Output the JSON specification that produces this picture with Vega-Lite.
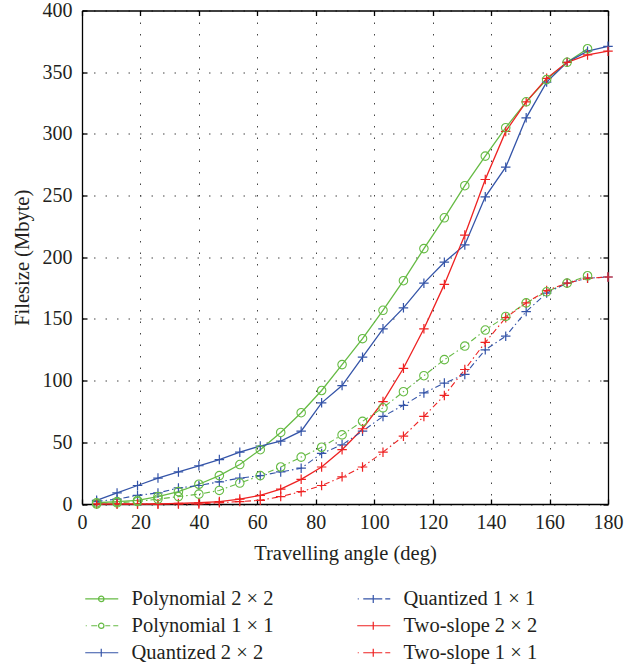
{
  "$schema": "https://vega.github.io/schema/vega-lite/v6.json",
  "width": 526,
  "height": 493.5,
  "autosize": {"type": "none"},
  "padding": {"left": 82, "top": 10.5, "right": 18, "bottom": 161},
  "background": "white",
  "datasets": {
    "pts": [
      {"angle": 5, "size": 1, "series": "Polynomial 2 × 2"},
      {"angle": 12, "size": 2, "series": "Polynomial 2 × 2"},
      {"angle": 19, "size": 3, "series": "Polynomial 2 × 2"},
      {"angle": 26, "size": 6, "series": "Polynomial 2 × 2"},
      {"angle": 33, "size": 10, "series": "Polynomial 2 × 2"},
      {"angle": 40, "size": 16, "series": "Polynomial 2 × 2"},
      {"angle": 47, "size": 23, "series": "Polynomial 2 × 2"},
      {"angle": 54, "size": 32, "series": "Polynomial 2 × 2"},
      {"angle": 61, "size": 44, "series": "Polynomial 2 × 2"},
      {"angle": 68, "size": 58, "series": "Polynomial 2 × 2"},
      {"angle": 75, "size": 74, "series": "Polynomial 2 × 2"},
      {"angle": 82, "size": 92, "series": "Polynomial 2 × 2"},
      {"angle": 89, "size": 113, "series": "Polynomial 2 × 2"},
      {"angle": 96, "size": 134, "series": "Polynomial 2 × 2"},
      {"angle": 103, "size": 157, "series": "Polynomial 2 × 2"},
      {"angle": 110, "size": 181, "series": "Polynomial 2 × 2"},
      {"angle": 117, "size": 207, "series": "Polynomial 2 × 2"},
      {"angle": 124, "size": 232, "series": "Polynomial 2 × 2"},
      {"angle": 131, "size": 258, "series": "Polynomial 2 × 2"},
      {"angle": 138, "size": 282, "series": "Polynomial 2 × 2"},
      {"angle": 145, "size": 305, "series": "Polynomial 2 × 2"},
      {"angle": 152, "size": 326, "series": "Polynomial 2 × 2"},
      {"angle": 159, "size": 344, "series": "Polynomial 2 × 2"},
      {"angle": 166, "size": 358, "series": "Polynomial 2 × 2"},
      {"angle": 173, "size": 369, "series": "Polynomial 2 × 2"},

      {"angle": 5, "size": 0, "series": "Polynomial 1 × 1"},
      {"angle": 12, "size": 1, "series": "Polynomial 1 × 1"},
      {"angle": 19, "size": 2, "series": "Polynomial 1 × 1"},
      {"angle": 26, "size": 4, "series": "Polynomial 1 × 1"},
      {"angle": 33, "size": 6, "series": "Polynomial 1 × 1"},
      {"angle": 40, "size": 8, "series": "Polynomial 1 × 1"},
      {"angle": 47, "size": 11, "series": "Polynomial 1 × 1"},
      {"angle": 54, "size": 17, "series": "Polynomial 1 × 1"},
      {"angle": 61, "size": 23, "series": "Polynomial 1 × 1"},
      {"angle": 68, "size": 30, "series": "Polynomial 1 × 1"},
      {"angle": 75, "size": 38, "series": "Polynomial 1 × 1"},
      {"angle": 82, "size": 46, "series": "Polynomial 1 × 1"},
      {"angle": 89, "size": 56, "series": "Polynomial 1 × 1"},
      {"angle": 96, "size": 67, "series": "Polynomial 1 × 1"},
      {"angle": 103, "size": 78, "series": "Polynomial 1 × 1"},
      {"angle": 110, "size": 91, "series": "Polynomial 1 × 1"},
      {"angle": 117, "size": 104, "series": "Polynomial 1 × 1"},
      {"angle": 124, "size": 117, "series": "Polynomial 1 × 1"},
      {"angle": 131, "size": 128, "series": "Polynomial 1 × 1"},
      {"angle": 138, "size": 141, "series": "Polynomial 1 × 1"},
      {"angle": 145, "size": 152, "series": "Polynomial 1 × 1"},
      {"angle": 152, "size": 163, "series": "Polynomial 1 × 1"},
      {"angle": 159, "size": 172, "series": "Polynomial 1 × 1"},
      {"angle": 166, "size": 179, "series": "Polynomial 1 × 1"},
      {"angle": 173, "size": 185, "series": "Polynomial 1 × 1"},

      {"angle": 5, "size": 3, "series": "Quantized 2 × 2"},
      {"angle": 12, "size": 9, "series": "Quantized 2 × 2"},
      {"angle": 19, "size": 15, "series": "Quantized 2 × 2"},
      {"angle": 26, "size": 21, "series": "Quantized 2 × 2"},
      {"angle": 33, "size": 26, "series": "Quantized 2 × 2"},
      {"angle": 40, "size": 31, "series": "Quantized 2 × 2"},
      {"angle": 47, "size": 36, "series": "Quantized 2 × 2"},
      {"angle": 54, "size": 42, "series": "Quantized 2 × 2"},
      {"angle": 61, "size": 47, "series": "Quantized 2 × 2"},
      {"angle": 68, "size": 51, "series": "Quantized 2 × 2"},
      {"angle": 75, "size": 59, "series": "Quantized 2 × 2"},
      {"angle": 82, "size": 82, "series": "Quantized 2 × 2"},
      {"angle": 89, "size": 96, "series": "Quantized 2 × 2"},
      {"angle": 96, "size": 119, "series": "Quantized 2 × 2"},
      {"angle": 103, "size": 142, "series": "Quantized 2 × 2"},
      {"angle": 110, "size": 159, "series": "Quantized 2 × 2"},
      {"angle": 117, "size": 179, "series": "Quantized 2 × 2"},
      {"angle": 124, "size": 196, "series": "Quantized 2 × 2"},
      {"angle": 131, "size": 210, "series": "Quantized 2 × 2"},
      {"angle": 138, "size": 249, "series": "Quantized 2 × 2"},
      {"angle": 145, "size": 273, "series": "Quantized 2 × 2"},
      {"angle": 152, "size": 313, "series": "Quantized 2 × 2"},
      {"angle": 159, "size": 342, "series": "Quantized 2 × 2"},
      {"angle": 166, "size": 358, "series": "Quantized 2 × 2"},
      {"angle": 173, "size": 367, "series": "Quantized 2 × 2"},
      {"angle": 180, "size": 371, "series": "Quantized 2 × 2"},

      {"angle": 5, "size": 2, "series": "Quantized 1 × 1"},
      {"angle": 12, "size": 4, "series": "Quantized 1 × 1"},
      {"angle": 19, "size": 7, "series": "Quantized 1 × 1"},
      {"angle": 26, "size": 9, "series": "Quantized 1 × 1"},
      {"angle": 33, "size": 13, "series": "Quantized 1 × 1"},
      {"angle": 40, "size": 15, "series": "Quantized 1 × 1"},
      {"angle": 47, "size": 18, "series": "Quantized 1 × 1"},
      {"angle": 54, "size": 21, "series": "Quantized 1 × 1"},
      {"angle": 61, "size": 23, "series": "Quantized 1 × 1"},
      {"angle": 68, "size": 26, "series": "Quantized 1 × 1"},
      {"angle": 75, "size": 29, "series": "Quantized 1 × 1"},
      {"angle": 82, "size": 41, "series": "Quantized 1 × 1"},
      {"angle": 89, "size": 48, "series": "Quantized 1 × 1"},
      {"angle": 96, "size": 59, "series": "Quantized 1 × 1"},
      {"angle": 103, "size": 71, "series": "Quantized 1 × 1"},
      {"angle": 110, "size": 80, "series": "Quantized 1 × 1"},
      {"angle": 117, "size": 90, "series": "Quantized 1 × 1"},
      {"angle": 124, "size": 98, "series": "Quantized 1 × 1"},
      {"angle": 131, "size": 105, "series": "Quantized 1 × 1"},
      {"angle": 138, "size": 125, "series": "Quantized 1 × 1"},
      {"angle": 145, "size": 136, "series": "Quantized 1 × 1"},
      {"angle": 152, "size": 156, "series": "Quantized 1 × 1"},
      {"angle": 159, "size": 171, "series": "Quantized 1 × 1"},
      {"angle": 166, "size": 179, "series": "Quantized 1 × 1"},
      {"angle": 173, "size": 183, "series": "Quantized 1 × 1"},
      {"angle": 180, "size": 184, "series": "Quantized 1 × 1"},

      {"angle": 5, "size": 0, "series": "Two-slope 2 × 2"},
      {"angle": 12, "size": 0, "series": "Two-slope 2 × 2"},
      {"angle": 19, "size": 0, "series": "Two-slope 2 × 2"},
      {"angle": 26, "size": 0, "series": "Two-slope 2 × 2"},
      {"angle": 33, "size": 0.5, "series": "Two-slope 2 × 2"},
      {"angle": 40, "size": 1, "series": "Two-slope 2 × 2"},
      {"angle": 47, "size": 2, "series": "Two-slope 2 × 2"},
      {"angle": 54, "size": 4, "series": "Two-slope 2 × 2"},
      {"angle": 61, "size": 7, "series": "Two-slope 2 × 2"},
      {"angle": 68, "size": 12, "series": "Two-slope 2 × 2"},
      {"angle": 75, "size": 20, "series": "Two-slope 2 × 2"},
      {"angle": 82, "size": 30, "series": "Two-slope 2 × 2"},
      {"angle": 89, "size": 44, "series": "Two-slope 2 × 2"},
      {"angle": 96, "size": 61, "series": "Two-slope 2 × 2"},
      {"angle": 103, "size": 83, "series": "Two-slope 2 × 2"},
      {"angle": 110, "size": 110, "series": "Two-slope 2 × 2"},
      {"angle": 117, "size": 142, "series": "Two-slope 2 × 2"},
      {"angle": 124, "size": 178, "series": "Two-slope 2 × 2"},
      {"angle": 131, "size": 218, "series": "Two-slope 2 × 2"},
      {"angle": 138, "size": 263, "series": "Two-slope 2 × 2"},
      {"angle": 145, "size": 302, "series": "Two-slope 2 × 2"},
      {"angle": 152, "size": 326, "series": "Two-slope 2 × 2"},
      {"angle": 159, "size": 345, "series": "Two-slope 2 × 2"},
      {"angle": 166, "size": 358, "series": "Two-slope 2 × 2"},
      {"angle": 173, "size": 364, "series": "Two-slope 2 × 2"},
      {"angle": 180, "size": 367, "series": "Two-slope 2 × 2"},

      {"angle": 5, "size": 0, "series": "Two-slope 1 × 1"},
      {"angle": 12, "size": 0, "series": "Two-slope 1 × 1"},
      {"angle": 19, "size": 0, "series": "Two-slope 1 × 1"},
      {"angle": 26, "size": 0, "series": "Two-slope 1 × 1"},
      {"angle": 33, "size": 0, "series": "Two-slope 1 × 1"},
      {"angle": 40, "size": 0, "series": "Two-slope 1 × 1"},
      {"angle": 47, "size": 1, "series": "Two-slope 1 × 1"},
      {"angle": 54, "size": 2, "series": "Two-slope 1 × 1"},
      {"angle": 61, "size": 3, "series": "Two-slope 1 × 1"},
      {"angle": 68, "size": 6, "series": "Two-slope 1 × 1"},
      {"angle": 75, "size": 10, "series": "Two-slope 1 × 1"},
      {"angle": 82, "size": 15, "series": "Two-slope 1 × 1"},
      {"angle": 89, "size": 22, "series": "Two-slope 1 × 1"},
      {"angle": 96, "size": 30, "series": "Two-slope 1 × 1"},
      {"angle": 103, "size": 42, "series": "Two-slope 1 × 1"},
      {"angle": 110, "size": 55, "series": "Two-slope 1 × 1"},
      {"angle": 117, "size": 71, "series": "Two-slope 1 × 1"},
      {"angle": 124, "size": 88, "series": "Two-slope 1 × 1"},
      {"angle": 131, "size": 109, "series": "Two-slope 1 × 1"},
      {"angle": 138, "size": 131, "series": "Two-slope 1 × 1"},
      {"angle": 145, "size": 151, "series": "Two-slope 1 × 1"},
      {"angle": 152, "size": 163, "series": "Two-slope 1 × 1"},
      {"angle": 159, "size": 173, "series": "Two-slope 1 × 1"},
      {"angle": 166, "size": 179, "series": "Two-slope 1 × 1"},
      {"angle": 173, "size": 183, "series": "Two-slope 1 × 1"},
      {"angle": 180, "size": 184, "series": "Two-slope 1 × 1"}
    ]
  },
  "data": {"name": "pts"},
  "config": {
    "view": {"stroke": null},
    "axis": {
      "labelFont": "Liberation Serif",
      "titleFont": "Liberation Serif",
      "labelFontSize": 20,
      "titleFontSize": 20.5,
      "titleFontWeight": "normal",
      "labelColor": "#231f20",
      "titleColor": "#231f20",
      "domainColor": "#000000",
      "domainWidth": 1.3,
      "tickColor": "#000000",
      "tickWidth": 1.3,
      "tickSize": -5,
      "gridColor": "#444444",
      "gridDash": [1.5, 10],
      "gridWidth": 1,
      "labelFlush": false,
      "labelOverlap": false
    },
    "legend": {
      "orient": "none",
      "legendX": -2,
      "legendY": 578,
      "columns": 2,
      "padding": 0,
      "labelFont": "Liberation Serif",
      "labelFontSize": 20.5,
      "labelColor": "#231f20",
      "labelLimit": 300,
      "symbolSize": 100,
      "symbolStrokeWidth": 1.2,
      "labelOffset": 31,
      "rowPadding": 6,
      "columnPadding": 78
    }
  },
  "encoding": {
    "x": {
      "field": "angle",
      "type": "quantitative",
      "scale": {"domain": [0, 180], "nice": false, "zero": false},
      "axis": {
        "values": [0, 20, 40, 60, 80, 100, 120, 140, 160, 180],
        "title": "Travelling angle (deg)",
        "labelPadding": 13,
        "titlePadding": 11,
        "grid": true
      }
    },
    "y": {
      "field": "size",
      "type": "quantitative",
      "scale": {"domain": [0, 400], "nice": false},
      "axis": {
        "values": [0, 50, 100, 150, 200, 250, 300, 350, 400],
        "title": "Filesize (Mbyte)",
        "labelPadding": 15,
        "titlePadding": 10,
        "grid": true
      }
    },
    "color": {
      "field": "series",
      "type": "nominal",
      "scale": {
        "domain": ["Polynomial 2 × 2", "Polynomial 1 × 1", "Quantized 2 × 2", "Quantized 1 × 1", "Two-slope 2 × 2", "Two-slope 1 × 1"],
        "range": ["#66bb44", "#66bb44", "#3454a8", "#3454a8", "#ee2222", "#ee2222"]
      },
      "legend": {
        "title": null,
        "encode": {
          "symbols": {
            "update": {
              "shape": {"signal": "(indexof(datum.value, '2 × 2') >= 0 ? 'M-1,0H5.6' : 'M-0.9,0H-0.7M0.2,0H1.4M3,0H4M4.6,0H5.6') + (indexof(datum.value, 'Polynomial') >= 0 ? 'M1.66,0A0.54,0.54 0 1,0 2.74,0A0.54,0.54 0 1,0 1.66,0' : 'M2.2,-0.8V0.8M1.4,0H3')"},
              "fill": {"value": "transparent"},
              "stroke": {"scale": "color", "field": "value"},
              "strokeDash": {"value": []},
              "strokeWidth": {"value": 1.2},
              "opacity": {"value": 1}
            }
          }
        }
      }
    }
  },
  "resolve": {"axis": {"x": "independent", "y": "independent"}},
  "layer": [
    {
      "layer": [
        {
          "transform": [{"filter": "indexof(datum.series, '2 × 2') >= 0"}],
          "mark": {"type": "line", "strokeWidth": 1.3}
        },
        {
          "transform": [{"filter": "indexof(datum.series, '1 × 1') >= 0"}],
          "mark": {"type": "line", "strokeWidth": 1.1, "strokeDash": [6, 3, 1.5, 3]}
        },
        {
          "transform": [{"filter": "indexof(datum.series, 'Polynomial') < 0"}],
          "mark": {"type": "point", "shape": "M-1,0H1M0,-1V1", "size": 90, "filled": false, "strokeWidth": 1.2, "opacity": 1}
        }
      ]
    },
    {
      "transform": [{"filter": "indexof(datum.series, 'Polynomial') >= 0"}],
      "mark": {"type": "point", "shape": "circle", "size": 72, "filled": false, "strokeWidth": 1.1, "opacity": 1},
      "encoding": {
        "x": {"field": "angle", "type": "quantitative", "axis": {"orient": "top", "labels": false, "title": null, "grid": false, "values": [0, 20, 40, 60, 80, 100, 120, 140, 160, 180]}},
        "y": {"field": "size", "type": "quantitative", "axis": {"orient": "right", "labels": false, "title": null, "grid": false, "values": [0, 50, 100, 150, 200, 250, 300, 350, 400]}}
      }
    }
  ]
}
